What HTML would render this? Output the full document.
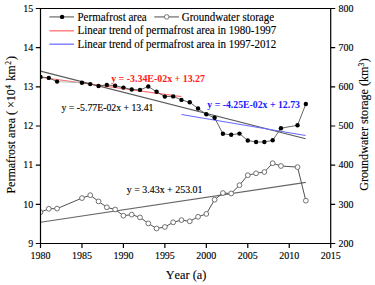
<!DOCTYPE html><html><head><meta charset="utf-8"><style>html,body{margin:0;padding:0;background:#fff;width:375px;height:285px;overflow:hidden}svg{display:block}text{font-family:"Liberation Serif",serif;font-kerning:none;stroke:#000;stroke-width:0.12px}.r,.b{stroke:none}</style></head><body>
<svg width="375" height="285" viewBox="0 0 375 285">
<defs><clipPath id="pc"><rect x="40.6" y="8.5" width="290.1" height="235"/></clipPath></defs><rect width="375" height="285" fill="#fff"/><g clip-path="url(#pc)">
<line x1="40.5" y1="71.1" x2="305.6" y2="138.7" stroke="#5a5a5a" stroke-width="1.1"/>
<line x1="40.5" y1="77.2" x2="181.3" y2="96.6" stroke="#ff6e6e" stroke-width="1.1"/>
<line x1="181.5" y1="114.5" x2="305.6" y2="135.5" stroke="#6a6aff" stroke-width="1.1"/>
<line x1="40.5" y1="222.3" x2="305.8" y2="182.4" stroke="#666" stroke-width="1.1"/>
<line x1="40.50" y1="77.0" x2="48.79" y2="77.9" stroke="#4a4a4a" stroke-width="0.85"/><line x1="48.79" y1="77.9" x2="57.08" y2="81.6" stroke="#4a4a4a" stroke-width="0.85"/><line x1="57.08" y1="81.6" x2="81.96" y2="82.8" stroke="#a8b8b8" stroke-width="0.85"/><line x1="81.96" y1="82.8" x2="90.25" y2="84.1" stroke="#4a4a4a" stroke-width="0.85"/><line x1="90.25" y1="84.1" x2="98.54" y2="86.0" stroke="#4a4a4a" stroke-width="0.85"/><line x1="98.54" y1="86.0" x2="106.83" y2="84.9" stroke="#4a4a4a" stroke-width="0.85"/><line x1="106.83" y1="84.9" x2="115.12" y2="85.7" stroke="#4a4a4a" stroke-width="0.85"/><line x1="115.12" y1="85.7" x2="123.41" y2="87.6" stroke="#4a4a4a" stroke-width="0.85"/><line x1="123.41" y1="87.6" x2="131.71" y2="89.5" stroke="#4a4a4a" stroke-width="0.85"/><line x1="131.71" y1="89.5" x2="140.00" y2="89.9" stroke="#4a4a4a" stroke-width="0.85"/><line x1="140.00" y1="89.9" x2="148.29" y2="86.5" stroke="#4a4a4a" stroke-width="0.85"/><line x1="148.29" y1="86.5" x2="156.58" y2="91.8" stroke="#4a4a4a" stroke-width="0.85"/><line x1="156.58" y1="91.8" x2="164.87" y2="96.6" stroke="#4a4a4a" stroke-width="0.85"/><line x1="164.87" y1="96.6" x2="173.16" y2="96.4" stroke="#4a4a4a" stroke-width="0.85"/><line x1="173.16" y1="96.4" x2="181.45" y2="99.9" stroke="#4a4a4a" stroke-width="0.85"/><line x1="181.45" y1="99.9" x2="189.75" y2="102.3" stroke="#4a4a4a" stroke-width="0.85"/><line x1="189.75" y1="102.3" x2="198.04" y2="108.5" stroke="#4a4a4a" stroke-width="0.85"/><line x1="198.04" y1="108.5" x2="206.33" y2="114.3" stroke="#4a4a4a" stroke-width="0.85"/><line x1="206.33" y1="114.3" x2="214.62" y2="117.8" stroke="#4a4a4a" stroke-width="0.85"/><line x1="214.62" y1="117.8" x2="222.91" y2="133.8" stroke="#4a4a4a" stroke-width="0.85"/><line x1="222.91" y1="133.8" x2="231.20" y2="134.8" stroke="#4a4a4a" stroke-width="0.85"/><line x1="231.20" y1="134.8" x2="239.49" y2="133.6" stroke="#4a4a4a" stroke-width="0.85"/><line x1="239.49" y1="133.6" x2="247.79" y2="140.5" stroke="#4a4a4a" stroke-width="0.85"/><line x1="247.79" y1="140.5" x2="256.08" y2="142.0" stroke="#4a4a4a" stroke-width="0.85"/><line x1="256.08" y1="142.0" x2="264.37" y2="142.0" stroke="#4a4a4a" stroke-width="0.85"/><line x1="264.37" y1="142.0" x2="272.66" y2="140.3" stroke="#4a4a4a" stroke-width="0.85"/><line x1="272.66" y1="140.3" x2="280.95" y2="128.2" stroke="#4a4a4a" stroke-width="0.85"/><line x1="280.95" y1="128.2" x2="297.53" y2="125.3" stroke="#4a4a4a" stroke-width="0.85"/><line x1="297.53" y1="125.3" x2="305.83" y2="104.0" stroke="#4a4a4a" stroke-width="0.85"/>
<circle cx="40.50" cy="77.0" r="2.2" fill="#000"/>
<circle cx="48.79" cy="77.9" r="2.2" fill="#000"/>
<circle cx="57.08" cy="81.6" r="2.2" fill="#000"/>
<circle cx="81.96" cy="82.8" r="2.2" fill="#000"/>
<circle cx="90.25" cy="84.1" r="2.2" fill="#000"/>
<circle cx="98.54" cy="86.0" r="2.2" fill="#000"/>
<circle cx="106.83" cy="84.9" r="2.2" fill="#000"/>
<circle cx="115.12" cy="85.7" r="2.2" fill="#000"/>
<circle cx="123.41" cy="87.6" r="2.2" fill="#000"/>
<circle cx="131.71" cy="89.5" r="2.2" fill="#000"/>
<circle cx="140.00" cy="89.9" r="2.2" fill="#000"/>
<circle cx="148.29" cy="86.5" r="2.2" fill="#000"/>
<circle cx="156.58" cy="91.8" r="2.2" fill="#000"/>
<circle cx="164.87" cy="96.6" r="2.2" fill="#000"/>
<circle cx="173.16" cy="96.4" r="2.2" fill="#000"/>
<circle cx="181.45" cy="99.9" r="2.2" fill="#000"/>
<circle cx="189.75" cy="102.3" r="2.2" fill="#000"/>
<circle cx="198.04" cy="108.5" r="2.2" fill="#000"/>
<circle cx="206.33" cy="114.3" r="2.2" fill="#000"/>
<circle cx="214.62" cy="117.8" r="2.2" fill="#000"/>
<circle cx="222.91" cy="133.8" r="2.2" fill="#000"/>
<circle cx="231.20" cy="134.8" r="2.2" fill="#000"/>
<circle cx="239.49" cy="133.6" r="2.2" fill="#000"/>
<circle cx="247.79" cy="140.5" r="2.2" fill="#000"/>
<circle cx="256.08" cy="142.0" r="2.2" fill="#000"/>
<circle cx="264.37" cy="142.0" r="2.2" fill="#000"/>
<circle cx="272.66" cy="140.3" r="2.2" fill="#000"/>
<circle cx="280.95" cy="128.2" r="2.2" fill="#000"/>
<circle cx="297.53" cy="125.3" r="2.2" fill="#000"/>
<circle cx="305.83" cy="104.0" r="2.2" fill="#000"/>
<line x1="40.50" y1="212.2" x2="48.79" y2="208.8" stroke="#505050" stroke-width="1.0"/><line x1="48.79" y1="208.8" x2="57.08" y2="208.6" stroke="#505050" stroke-width="1.0"/><line x1="57.08" y1="208.6" x2="81.96" y2="198.1" stroke="#505050" stroke-width="1.0"/><line x1="81.96" y1="198.1" x2="90.25" y2="195.2" stroke="#505050" stroke-width="1.0"/><line x1="90.25" y1="195.2" x2="98.54" y2="201.4" stroke="#505050" stroke-width="1.0"/><line x1="98.54" y1="201.4" x2="106.83" y2="207.3" stroke="#505050" stroke-width="1.0"/><line x1="106.83" y1="207.3" x2="115.12" y2="209.5" stroke="#505050" stroke-width="1.0"/><line x1="115.12" y1="209.5" x2="123.41" y2="215.7" stroke="#505050" stroke-width="1.0"/><line x1="123.41" y1="215.7" x2="131.71" y2="214.6" stroke="#505050" stroke-width="1.0"/><line x1="131.71" y1="214.6" x2="140.00" y2="217.4" stroke="#505050" stroke-width="1.0"/><line x1="140.00" y1="217.4" x2="148.29" y2="223.4" stroke="#505050" stroke-width="1.0"/><line x1="148.29" y1="223.4" x2="156.58" y2="228.5" stroke="#505050" stroke-width="1.0"/><line x1="156.58" y1="228.5" x2="164.87" y2="227.0" stroke="#505050" stroke-width="1.0"/><line x1="164.87" y1="227.0" x2="173.16" y2="222.3" stroke="#505050" stroke-width="1.0"/><line x1="173.16" y1="222.3" x2="181.45" y2="220.1" stroke="#505050" stroke-width="1.0"/><line x1="181.45" y1="220.1" x2="189.75" y2="221.3" stroke="#505050" stroke-width="1.0"/><line x1="189.75" y1="221.3" x2="198.04" y2="216.8" stroke="#505050" stroke-width="1.0"/><line x1="198.04" y1="216.8" x2="206.33" y2="213.9" stroke="#505050" stroke-width="1.0"/><line x1="206.33" y1="213.9" x2="214.62" y2="199.7" stroke="#505050" stroke-width="1.0"/><line x1="214.62" y1="199.7" x2="222.91" y2="193.0" stroke="#505050" stroke-width="1.0"/><line x1="222.91" y1="193.0" x2="231.20" y2="193.5" stroke="#505050" stroke-width="1.0"/><line x1="231.20" y1="193.5" x2="239.49" y2="185.2" stroke="#505050" stroke-width="1.0"/><line x1="239.49" y1="185.2" x2="247.79" y2="175.2" stroke="#505050" stroke-width="1.0"/><line x1="247.79" y1="175.2" x2="256.08" y2="173.3" stroke="#505050" stroke-width="1.0"/><line x1="256.08" y1="173.3" x2="264.37" y2="172.0" stroke="#505050" stroke-width="1.0"/><line x1="264.37" y1="172.0" x2="272.66" y2="163.2" stroke="#505050" stroke-width="1.0"/><line x1="272.66" y1="163.2" x2="280.95" y2="166.0" stroke="#505050" stroke-width="1.0"/><line x1="280.95" y1="166.0" x2="297.53" y2="167.1" stroke="#505050" stroke-width="1.0"/><line x1="297.53" y1="167.1" x2="305.83" y2="200.7" stroke="#505050" stroke-width="1.0"/>
<circle cx="40.50" cy="212.2" r="2.4" fill="#fff" stroke="#6a6a6a" stroke-width="0.95"/>
<circle cx="48.79" cy="208.8" r="2.4" fill="#fff" stroke="#6a6a6a" stroke-width="0.95"/>
<circle cx="57.08" cy="208.6" r="2.4" fill="#fff" stroke="#6a6a6a" stroke-width="0.95"/>
<circle cx="81.96" cy="198.1" r="2.4" fill="#fff" stroke="#6a6a6a" stroke-width="0.95"/>
<circle cx="90.25" cy="195.2" r="2.4" fill="#fff" stroke="#6a6a6a" stroke-width="0.95"/>
<circle cx="98.54" cy="201.4" r="2.4" fill="#fff" stroke="#6a6a6a" stroke-width="0.95"/>
<circle cx="106.83" cy="207.3" r="2.4" fill="#fff" stroke="#6a6a6a" stroke-width="0.95"/>
<circle cx="115.12" cy="209.5" r="2.4" fill="#fff" stroke="#6a6a6a" stroke-width="0.95"/>
<circle cx="123.41" cy="215.7" r="2.4" fill="#fff" stroke="#6a6a6a" stroke-width="0.95"/>
<circle cx="131.71" cy="214.6" r="2.4" fill="#fff" stroke="#6a6a6a" stroke-width="0.95"/>
<circle cx="140.00" cy="217.4" r="2.4" fill="#fff" stroke="#6a6a6a" stroke-width="0.95"/>
<circle cx="148.29" cy="223.4" r="2.4" fill="#fff" stroke="#6a6a6a" stroke-width="0.95"/>
<circle cx="156.58" cy="228.5" r="2.4" fill="#fff" stroke="#6a6a6a" stroke-width="0.95"/>
<circle cx="164.87" cy="227.0" r="2.4" fill="#fff" stroke="#6a6a6a" stroke-width="0.95"/>
<circle cx="173.16" cy="222.3" r="2.4" fill="#fff" stroke="#6a6a6a" stroke-width="0.95"/>
<circle cx="181.45" cy="220.1" r="2.4" fill="#fff" stroke="#6a6a6a" stroke-width="0.95"/>
<circle cx="189.75" cy="221.3" r="2.4" fill="#fff" stroke="#6a6a6a" stroke-width="0.95"/>
<circle cx="198.04" cy="216.8" r="2.4" fill="#fff" stroke="#6a6a6a" stroke-width="0.95"/>
<circle cx="206.33" cy="213.9" r="2.4" fill="#fff" stroke="#6a6a6a" stroke-width="0.95"/>
<circle cx="214.62" cy="199.7" r="2.4" fill="#fff" stroke="#6a6a6a" stroke-width="0.95"/>
<circle cx="222.91" cy="193.0" r="2.4" fill="#fff" stroke="#6a6a6a" stroke-width="0.95"/>
<circle cx="231.20" cy="193.5" r="2.4" fill="#fff" stroke="#6a6a6a" stroke-width="0.95"/>
<circle cx="239.49" cy="185.2" r="2.4" fill="#fff" stroke="#6a6a6a" stroke-width="0.95"/>
<circle cx="247.79" cy="175.2" r="2.4" fill="#fff" stroke="#6a6a6a" stroke-width="0.95"/>
<circle cx="256.08" cy="173.3" r="2.4" fill="#fff" stroke="#6a6a6a" stroke-width="0.95"/>
<circle cx="264.37" cy="172.0" r="2.4" fill="#fff" stroke="#6a6a6a" stroke-width="0.95"/>
<circle cx="272.66" cy="163.2" r="2.4" fill="#fff" stroke="#6a6a6a" stroke-width="0.95"/>
<circle cx="280.95" cy="166.0" r="2.4" fill="#fff" stroke="#6a6a6a" stroke-width="0.95"/>
<circle cx="297.53" cy="167.1" r="2.4" fill="#fff" stroke="#6a6a6a" stroke-width="0.95"/>
<circle cx="305.83" cy="200.7" r="2.4" fill="#fff" stroke="#6a6a6a" stroke-width="0.95"/>
</g>
<path d="M40.5 8.5 H330.7 V243.5 H40.5 Z" fill="none" stroke="#000" stroke-width="1.2"/>
<path d="M35.8 8.50 H40.5 M330.7 8.50 H335.2 M35.8 47.67 H40.5 M330.7 47.67 H335.2 M35.8 86.83 H40.5 M330.7 86.83 H335.2 M35.8 126.00 H40.5 M330.7 126.00 H335.2 M35.8 165.17 H40.5 M330.7 165.17 H335.2 M35.8 204.33 H40.5 M330.7 204.33 H335.2 M35.8 243.50 H40.5 M330.7 243.50 H335.2 M40.50 243.5 V248 M81.96 243.5 V248 M123.41 243.5 V248 M164.87 243.5 V248 M206.33 243.5 V248 M247.79 243.5 V248 M289.24 243.5 V248 M330.70 243.5 V248" stroke="#000" stroke-width="1.2" fill="none"/>
<text transform="translate(33.30,11.70) scale(1.0,1.07)" font-size="10" text-anchor="end">15</text>
<text transform="translate(33.30,50.87) scale(1.0,1.07)" font-size="10" text-anchor="end">14</text>
<text transform="translate(33.30,90.03) scale(1.0,1.07)" font-size="10" text-anchor="end">13</text>
<text transform="translate(33.30,129.20) scale(1.0,1.07)" font-size="10" text-anchor="end">12</text>
<text transform="translate(33.30,168.37) scale(1.0,1.07)" font-size="10" text-anchor="end">11</text>
<text transform="translate(33.30,207.53) scale(1.0,1.07)" font-size="10" text-anchor="end">10</text>
<text transform="translate(33.30,246.70) scale(1.0,1.07)" font-size="10" text-anchor="end">9</text>
<text transform="translate(338.40,11.70) scale(1.0,1.07)" font-size="10">800</text>
<text transform="translate(338.40,50.87) scale(1.0,1.07)" font-size="10">700</text>
<text transform="translate(338.40,90.03) scale(1.0,1.07)" font-size="10">600</text>
<text transform="translate(338.40,129.20) scale(1.0,1.07)" font-size="10">500</text>
<text transform="translate(338.40,168.37) scale(1.0,1.07)" font-size="10">400</text>
<text transform="translate(338.40,207.53) scale(1.0,1.07)" font-size="10">300</text>
<text transform="translate(338.40,246.70) scale(1.0,1.07)" font-size="10">200</text>
<text transform="translate(40.50,259.00) scale(1.0,1.07)" font-size="10" text-anchor="middle">1980</text>
<text transform="translate(81.96,259.00) scale(1.0,1.07)" font-size="10" text-anchor="middle">1985</text>
<text transform="translate(123.41,259.00) scale(1.0,1.07)" font-size="10" text-anchor="middle">1990</text>
<text transform="translate(164.87,259.00) scale(1.0,1.07)" font-size="10" text-anchor="middle">1995</text>
<text transform="translate(206.33,259.00) scale(1.0,1.07)" font-size="10" text-anchor="middle">2000</text>
<text transform="translate(247.79,259.00) scale(1.0,1.07)" font-size="10" text-anchor="middle">2005</text>
<text transform="translate(289.24,259.00) scale(1.0,1.07)" font-size="10" text-anchor="middle">2010</text>
<text transform="translate(330.70,259.00) scale(1.0,1.07)" font-size="10" text-anchor="middle">2015</text>
<text transform="translate(186.00,279.20) scale(1.0,1.07)" font-size="12.3" text-anchor="middle">Year (a)</text>
<text transform="translate(15.2,193.6) rotate(-90)" font-size="12">Permafrost area ( ×10<tspan font-size="7.5" dy="-4.5" dx="0.4">4</tspan><tspan dy="4.5" dx="1.3"> km</tspan><tspan font-size="7.5" dy="-4.5" dx="0.7">2</tspan><tspan dy="4.5" dx="0.9">)</tspan></text>
<text transform="translate(368.4,190.8) rotate(-90)" font-size="12.1">Groundwater storage (km<tspan font-size="7.6" dy="-4.6">3</tspan><tspan dy="4.6" dx="0.5">)</tspan></text>
<line x1="49.4" y1="16.9" x2="74" y2="16.9" stroke="#777" stroke-width="1.3"/><circle cx="62.1" cy="16.9" r="2.2" fill="#000"/>
<text transform="translate(77.50,20.60) scale(1.0,1.07)" font-size="11">Permafrost area</text>
<line x1="154.3" y1="16.9" x2="179" y2="16.9" stroke="#777" stroke-width="1.3"/><circle cx="166.7" cy="16.9" r="2.3" fill="#fff" stroke="#707070" stroke-width="0.95"/>
<text transform="translate(181.70,20.60) scale(1.0,1.07)" font-size="11">Groundwater storage</text>
<line x1="49.4" y1="30.8" x2="74" y2="30.8" stroke="#ff7a7a" stroke-width="1.4"/>
<text transform="translate(77.50,34.40) scale(1.0,1.07)" font-size="11">Linear trend of permafrost area in 1980-1997</text>
<line x1="49.4" y1="44.2" x2="74" y2="44.2" stroke="#7a7aff" stroke-width="1.4"/>
<text transform="translate(77.50,47.80) scale(1.0,1.07)" font-size="11">Linear trend of permafrost area in 1997-2012</text>
<text transform="translate(111.20,81.80) scale(1.0,1.07)" font-size="9.9" font-weight="bold" fill="#ff1a1a" class="r">y = -3.34E-02x + 13.27</text>
<text transform="translate(61.50,110.50) scale(1.0,1.07)" font-size="9.8" fill="#000">y = -5.77E-02x + 13.41</text>
<text transform="translate(207.30,107.80) scale(1.0,1.07)" font-size="9.8" font-weight="bold" fill="#1a1aff" class="b">y = -4.25E-02x + 12.73</text>
<text transform="translate(126.70,192.60) scale(1.0,1.07)" font-size="9.95" fill="#000">y = 3.43x + 253.01</text>
</svg></body></html>
